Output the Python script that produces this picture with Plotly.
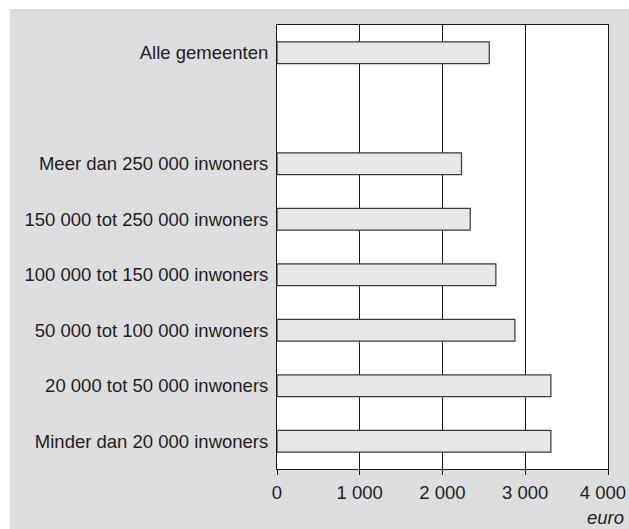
import plotly.graph_objects as go

categories = [
    "Minder dan 20 000 inwoners",
    "20 000 tot 50 000 inwoners",
    "50 000 tot 100 000 inwoners",
    "100 000 tot 150 000 inwoners",
    "150 000 tot 250 000 inwoners",
    "Meer dan 250 000 inwoners",
    "Alle gemeenten",
]
values = [3310, 3310, 2875, 2645, 2335, 2230, 2565]
axis_order = categories[:6] + [" "] + categories[6:]
tick_vals = [0, 1000, 2000, 3000, 4000]
tick_text = ["0", "1 000", "2 000", "3 000", "4 000\u00a0\u00a0"]
unit_label = "euro"

W, H = 629, 529
L, R, T, B = 277, 21, 25, 60
pw, ph = W - L - R, H - T - B

FONT = "Liberation Sans, Arial, sans-serif"
TXT = "#231f20"
FS = 18.5

fig = go.Figure(go.Bar(
    x=values, y=categories, orientation="h",
    width=0.39,
    marker=dict(color="#e6e7e8", line=dict(color="#3a3a3a", width=1.2)),
))

fig.update_layout(
    width=W, height=H,
    margin=dict(l=L, r=R, t=T, b=B, pad=0, autoexpand=False),
    paper_bgcolor="#dcdddf",
    plot_bgcolor="white",
    showlegend=False,
    font=dict(family=FONT, size=FS, color=TXT),
)
fig.update_xaxes(
    range=[0, 4000], tickvals=tick_vals, ticktext=tick_text,
    showgrid=True, gridcolor="#1a1a1a", gridwidth=1,
    showline=True, linecolor="#1a1a1a", linewidth=1, mirror=True,
    ticks="outside", ticklen=5, tickcolor="#1a1a1a",
    ticklabelstandoff=2, ticklabeloverflow="allow", automargin=False,
    zeroline=False, tickfont=dict(size=FS, color=TXT),
)
fig.update_yaxes(
    type="category", categoryorder="array", categoryarray=axis_order,
    range=[-0.5, len(axis_order) - 0.5], automargin=False,
    showgrid=False, showline=True, linecolor="#1a1a1a", linewidth=1, mirror=True,
    ticks="", ticklabelstandoff=4, tickfont=dict(size=FS, color=TXT),
)
# white strips on top/left outside the grey panel
fig.add_shape(type="rect", xref="paper", yref="paper",
              x0=-L / pw - 0.1, x1=(W - L) / pw + 0.1, y0=(H - B - 9) / ph, y1=(H - B) / ph + 0.1,
              fillcolor="white", line_width=0, layer="below")
fig.add_shape(type="rect", xref="paper", yref="paper",
              x0=-L / pw - 0.1, x1=(10 - L) / pw, y0=-B / ph - 0.1, y1=(H - B) / ph + 0.1,
              fillcolor="white", line_width=0, layer="below")
fig.add_annotation(text="<i>" + unit_label + "</i>", xref="paper", yref="paper",
                   x=(626 - L) / pw, y=((H - B) - 517) / ph,
                   xanchor="right", yanchor="middle", showarrow=False,
                   font=dict(size=FS, color=TXT))

fig.write_html(
    "out.html",
    config={"displayModeBar": False, "responsive": False},
    post_script="document.body.style.margin='0';document.body.style.overflow='hidden';",
)
